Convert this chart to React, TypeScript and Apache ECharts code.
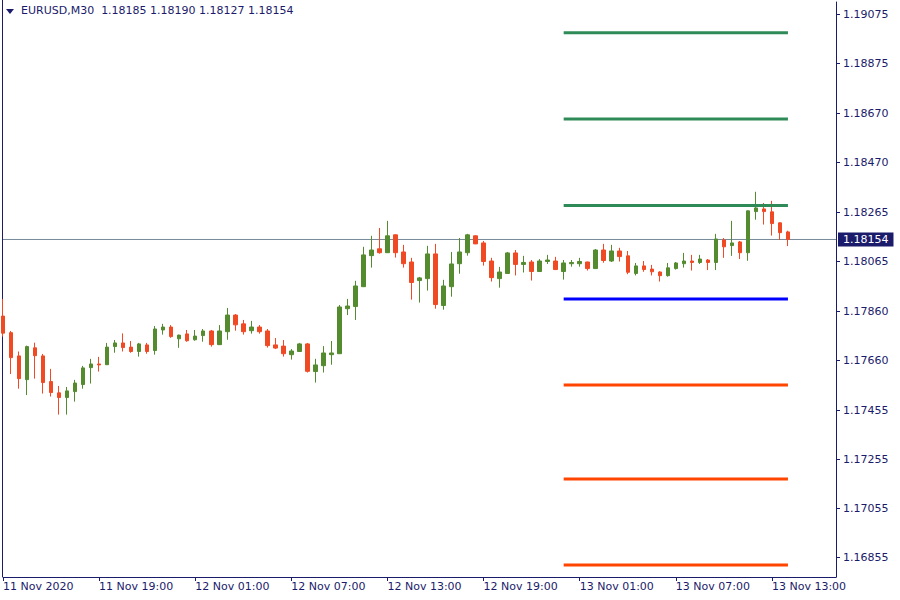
import React, { useEffect, useRef } from "react";
import * as echarts from "echarts";

const symbol = "EURUSD,M30";
const tickLabels = ["11 Nov 2020", "11 Nov 19:00", "12 Nov 01:00", "12 Nov 07:00", "12 Nov 13:00", "12 Nov 19:00", "13 Nov 01:00", "13 Nov 07:00", "13 Nov 13:00"];
const yTicks = [1.19075, 1.18875, 1.1867, 1.1847, 1.18265, 1.18065, 1.1786, 1.1766, 1.17455, 1.17255, 1.17055, 1.16855];

const opens = [1.17841,1.17773,1.17678,1.17581,1.17711,1.17678,1.17573,1.17527,1.17508,1.17532,1.17561,1.17630,1.17645,1.17642,1.17716,1.17731,1.17714,1.17696,1.17723,1.17700,1.17784,1.17796,1.17748,1.17768,1.17744,1.17761,1.17780,1.17724,1.17777,1.17845,1.17809,1.17781,1.17796,1.17780,1.17723,1.17718,1.17683,1.17696,1.17727,1.17614,1.17638,1.17683,1.17687,1.17871,1.17880,1.17961,1.18088,1.18116,1.18100,1.18173,1.18103,1.18062,1.17986,1.17994,1.18095,1.17884,1.17961,1.18055,1.18100,1.18169,1.18140,1.18066,1.17994,1.18015,1.18099,1.18052,1.18062,1.18023,1.18064,1.18066,1.18023,1.18055,1.18055,1.18062,1.18035,1.18111,1.18066,1.18107,1.18087,1.18015,1.18046,1.18033,1.18021,1.18006,1.18035,1.18055,1.18066,1.18060,1.18070,1.18060,1.18152,1.18129,1.18144,1.18100,1.18268,1.18279,1.18267,1.18222,1.18185];
const highs = [1.17911,1.17780,1.17696,1.17720,1.17732,1.17686,1.17625,1.17555,1.17551,1.17580,1.17637,1.17666,1.17674,1.17731,1.17743,1.17770,1.17739,1.17731,1.17731,1.17800,1.17809,1.17804,1.17765,1.17784,1.17784,1.17788,1.17784,1.17804,1.17874,1.17849,1.17825,1.17821,1.17804,1.17788,1.17751,1.17743,1.17706,1.17731,1.17731,1.17666,1.17718,1.17739,1.17886,1.17911,1.17985,1.18124,1.18169,1.18201,1.18230,1.18175,1.18132,1.18079,1.18001,1.18128,1.18136,1.17989,1.18103,1.18160,1.18177,1.18171,1.18148,1.18079,1.18042,1.18103,1.18111,1.18087,1.18070,1.18074,1.18091,1.18083,1.18070,1.18070,1.18079,1.18063,1.18115,1.18136,1.18132,1.18120,1.18107,1.18058,1.18066,1.18050,1.18024,1.18058,1.18062,1.18099,1.18091,1.18091,1.18074,1.18177,1.18160,1.18230,1.18148,1.18273,1.18349,1.18303,1.18312,1.18224,1.18190];
const lows = [1.17757,1.17604,1.17544,1.17518,1.17585,1.17524,1.17512,1.17438,1.17438,1.17491,1.17544,1.17565,1.17614,1.17641,1.17691,1.17696,1.17691,1.17675,1.17687,1.17683,1.17765,1.17752,1.17711,1.17736,1.17740,1.17736,1.17716,1.17723,1.17744,1.17781,1.17765,1.17769,1.17769,1.17712,1.17706,1.17675,1.17663,1.17695,1.17610,1.17569,1.17610,1.17642,1.17686,1.17845,1.17825,1.17960,1.18039,1.18096,1.18099,1.18080,1.18039,1.17908,1.17896,1.17945,1.17871,1.17867,1.17920,1.18014,1.18088,1.18135,1.18047,1.17982,1.17957,1.18014,1.18007,1.18019,1.17986,1.18022,1.18054,1.18030,1.17990,1.18043,1.18043,1.18027,1.18034,1.18059,1.18062,1.18064,1.18012,1.18007,1.18022,1.18007,1.17982,1.18002,1.18031,1.18039,1.18027,1.18054,1.18029,1.18029,1.18079,1.18087,1.18074,1.18067,1.18235,1.18215,1.18170,1.18152,1.18127];
const closes = [1.17771,1.17671,1.17585,1.17716,1.17679,1.17569,1.17528,1.17508,1.17535,1.17567,1.17629,1.17645,1.17641,1.17714,1.17731,1.17712,1.17696,1.17727,1.17696,1.17788,1.17796,1.17757,1.17763,1.17740,1.17759,1.17780,1.17724,1.17780,1.17845,1.17805,1.17777,1.17796,1.17777,1.17720,1.17710,1.17687,1.17698,1.17727,1.17615,1.17641,1.17690,1.17690,1.17878,1.17882,1.17964,1.18091,1.18111,1.18100,1.18169,1.18100,1.18055,1.17978,1.17997,1.18095,1.17888,1.17964,1.18054,1.18103,1.18173,1.18136,1.18064,1.17998,1.18021,1.18099,1.18052,1.18060,1.18023,1.18066,1.18070,1.18031,1.18058,1.18060,1.18064,1.18035,1.18111,1.18068,1.18107,1.18084,1.18020,1.18046,1.18031,1.18022,1.18006,1.18038,1.18058,1.18066,1.18060,1.18074,1.18060,1.18156,1.18124,1.18140,1.18100,1.18271,1.18283,1.18268,1.18219,1.18182,1.18154];

const levelValues = [1.18999, 1.18647, 1.18293, 1.17911, 1.17559, 1.17175, 1.16823];
const levelColors = ["#2e8b57", "#2e8b57", "#2e8b57", "#0000ff", "#ff4500", "#ff4500", "#ff4500"];
const levelStartBar = 70;

const NAVY = "#1b1b6b";
const FONT = "DejaVu Sans";
const TOTAL_SLOTS = 105;

// bar times (30-minute bars from 11 Nov 2020 13:00)
const categories: string[] = [];
for (let i = 0; i < TOTAL_SLOTS; i++) {
  const mins = 13 * 60 + i * 30;
  const day = 11 + Math.floor(mins / 1440);
  const m = mins % 1440;
  categories.push(`${day} Nov ${String(Math.floor(m / 60)).padStart(2, "0")}:${String(m % 60).padStart(2, "0")}`);
}

export default function App() {
  const ref = useRef<HTMLDivElement>(null);
  useEffect(() => {
    if (!ref.current) return;
    const chart = echarts.init(ref.current, undefined, { renderer: "svg" });
    const candleData = opens.map((o, i) => [o, closes[i], lows[i], highs[i]]);
    const last = opens.length - 1;
    const lastClose = closes[last];
    const header = `${symbol}  ${opens[last].toFixed(5)} ${highs[last].toFixed(5)} ${lows[last].toFixed(5)} ${closes[last].toFixed(5)}`;

    const levelSeries = levelValues.map((v, i) => ({
      type: "line",
      silent: true,
      symbol: "none",
      data: [[levelStartBar, v], [last, v]],
      lineStyle: { color: levelColors[i], width: 3 },
      z: 3,
    }));

    chart.setOption({
      animation: false,
      backgroundColor: "#ffffff",
      textStyle: { fontFamily: FONT, fontSize: 11 },
      grid: { left: 3, right: 64, top: 2, bottom: 23, outerBoundsMode: "none" },
      xAxis: {
        type: "category",
        data: categories,
        boundaryGap: false,
        axisLine: { show: true, lineStyle: { color: NAVY, width: 1 } },
        axisTick: { show: true, interval: 11, length: 4, lineStyle: { color: NAVY } },
        axisLabel: {
          interval: 11,
          align: "left",
          margin: 4,
          color: NAVY,
          fontFamily: FONT,
          fontSize: 11,
          formatter: (_v: string, idx: number) => tickLabels[idx / 12] ?? "",
        },
        splitLine: { show: false },
      },
      yAxis: {
        type: "value",
        position: "right",
        min: 1.16774,
        max: 1.19125,
        axisLine: { show: true, lineStyle: { color: NAVY, width: 1 } },
        axisTick: { show: true, length: 4, lineStyle: { color: NAVY }, customValues: yTicks },
        axisLabel: {
          customValues: yTicks,
          margin: 7,
          color: NAVY,
          fontFamily: FONT,
          fontSize: 11,
          formatter: (v: number) => v.toFixed(5),
        },
        splitLine: { show: false },
      },
      series: [
        {
          type: "line",
          silent: true,
          symbol: "none",
          z: 1,
          data: [[0, lastClose], [TOTAL_SLOTS - 1, lastClose]],
          lineStyle: { color: "#778899", width: 1 },
          endLabel: {
            show: true,
            distance: 2,
            formatter: () => lastClose.toFixed(5),
            backgroundColor: NAVY,
            color: "#ffffff",
            fontFamily: FONT,
            fontSize: 11,
            padding: [2, 5, 1, 5],
          },
        },
        {
          type: "candlestick",
          data: candleData,
          barWidth: 4,
          itemStyle: {
            color: "#558b2f",
            color0: "#ef4a24",
            borderColor: "#558b2f",
            borderColor0: "#ef4a24",
            borderWidth: 1,
          },
          z: 2,
        },
        ...levelSeries,
      ],
      graphic: [
        { type: "line", shape: { x1: 2.5, y1: 0, x2: 2.5, y2: 577 }, style: { stroke: NAVY, lineWidth: 1 } },
        { type: "polygon", shape: { points: [[6, 9], [14, 9], [10, 14]] }, style: { fill: NAVY } },
        { type: "text", left: 21, top: 5, style: { text: header, fill: NAVY, font: `11px '${FONT}'` } },
      ],
    });
    return () => chart.dispose();
  }, []);
  return <div ref={ref} style={{ position: "fixed", left: 0, top: 0, width: 900, height: 600 }} />;
}
